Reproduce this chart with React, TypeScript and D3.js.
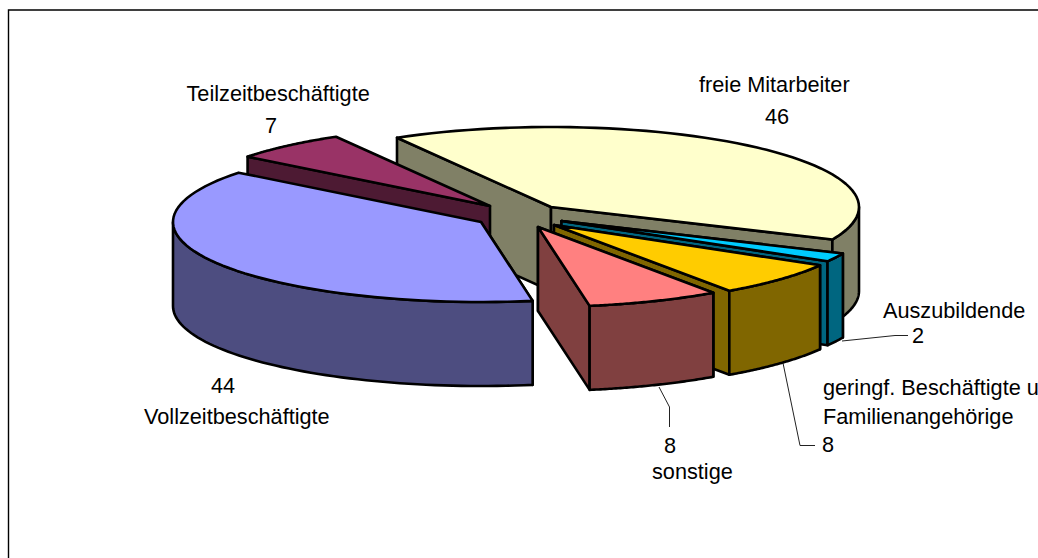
import React from "react";
import * as d3 from "d3";

const categories = ["freie Mitarbeiter", "Auszubildende", "geringf. Beschäftigte u. Familienangehörige", "sonstige", "Vollzeitbeschäftigte", "Teilzeitbeschäftigte"];
const values = [46, 2, 8, 8, 44, 7];
const topColors = ["#FFFFCC", "#00CCFF", "#FFCC00", "#FF8080", "#9999FF", "#993366"];
const sideColors = ["#808066", "#006680", "#806600", "#804040", "#4D4D80", "#4D1A33"];
// apex of every exploded slice on the top plane
const apexX = [551, 561.5, 554, 538, 481, 490];
const apexY = [207, 221, 225, 227, 222, 206];
const drawOrder = [0, 5, 4, 1, 2, 3];

const W = 1038, H = 558;
const RX = 308, RY = 80, DEPTH = 84;
const START = (-30 * Math.PI) / 180;

const pie = d3.pie<number>().sort(null).startAngle(START).endAngle(START + 2 * Math.PI);
const arcs = pie(values);

type P = [number, number];
const line = d3.line<P>();
const rim = (cx: number, cy: number, a: number): P => [cx + RX * Math.sin(a), cy - RY * Math.cos(a)];
const samples = (a0: number, a1: number) => d3.range(0, 61).map((i) => a0 + ((a1 - a0) * i) / 60);

function Slice({ i }: { i: number }) {
  const { startAngle: a0, endAngle: a1 } = arcs[i];
  const cx = apexX[i], cy = apexY[i];
  const top = [[cx, cy] as P, ...samples(a0, a1).map((a) => rim(cx, cy, a))];
  const down = (p: P): P => [p[0], p[1] + DEPTH];
  const face = (a: number): P[] => {
    const r = rim(cx, cy, a);
    return [[cx, cy], r, down(r), down([cx, cy])];
  };
  // Back-facing cut faces end up hidden under the top and the outer wall.
  const faces: P[][] = [face(a0)];
  if (Math.sin(a1) > 0) faces.push(face(a1));
  const front: P[][] = [];
  const lo = Math.max(a0, Math.PI / 2);
  const hi = Math.min(a1, (3 * Math.PI) / 2);
  if (hi > lo) {
    const pts = samples(lo, hi).map((a) => rim(cx, cy, a));
    front.push([...pts, ...pts.slice().reverse().map(down)]);
  }
  const common = { stroke: "#000", strokeWidth: 2.6, strokeLinejoin: "round" as const };
  return (
    <g>
      {faces.map((f, k) => <path key={k} d={line(f)! + "Z"} fill={sideColors[i]} {...common} />)}
      {front.map((f, k) => <path key={k} d={line(f)! + "Z"} fill={sideColors[i]} {...common} />)}
      <path d={line(top)! + "Z"} fill={topColors[i]} {...common} />
    </g>
  );
}

const leaders: P[][] = [
  [[842, 341], [895, 335.5], [908, 335.5]],
  [[783, 363], [800, 445.5], [815, 445.5]],
  [[659, 387], [669.5, 407], [669.5, 427]],
];
const labels: { t: string; x: number; y: number }[] = [
  { t: categories[0], x: 699, y: 92 },
  { t: String(values[0]), x: 765, y: 124 },
  { t: categories[5], x: 186.5, y: 101 },
  { t: String(values[5]), x: 265, y: 133 },
  { t: String(values[4]), x: 211, y: 393 },
  { t: categories[4], x: 144, y: 424 },
  { t: categories[1], x: 883, y: 318 },
  { t: String(values[1]), x: 912, y: 343 },
  { t: "geringf. Beschäftigte u.", x: 823, y: 395 },
  { t: "Familienangehörige", x: 823, y: 424 },
  { t: String(values[2]), x: 822, y: 452 },
  { t: String(values[3]), x: 664, y: 453 },
  { t: categories[3], x: 652, y: 479 },
];

export default function App() {
  return (
    <svg width={W} height={H} viewBox={`0 0 ${W} ${H}`} style={{ position: "absolute", left: 0, top: 0, background: "#fff" }}>
      <path d={`M8.5 ${H}V10H${W}`} fill="none" stroke="#000" strokeWidth={1.4} />
      {drawOrder.map((i) => <Slice key={i} i={i} />)}
      {leaders.map((l, k) => <path key={k} d={line(l)!} fill="none" stroke="#222" strokeWidth={1} />)}
      <g fontFamily="'Liberation Sans', Arial, sans-serif" fontSize={21.7} fill="#000">
        {labels.map((l, k) => <text key={k} x={l.x} y={l.y}>{l.t}</text>)}
      </g>
    </svg>
  );
}
